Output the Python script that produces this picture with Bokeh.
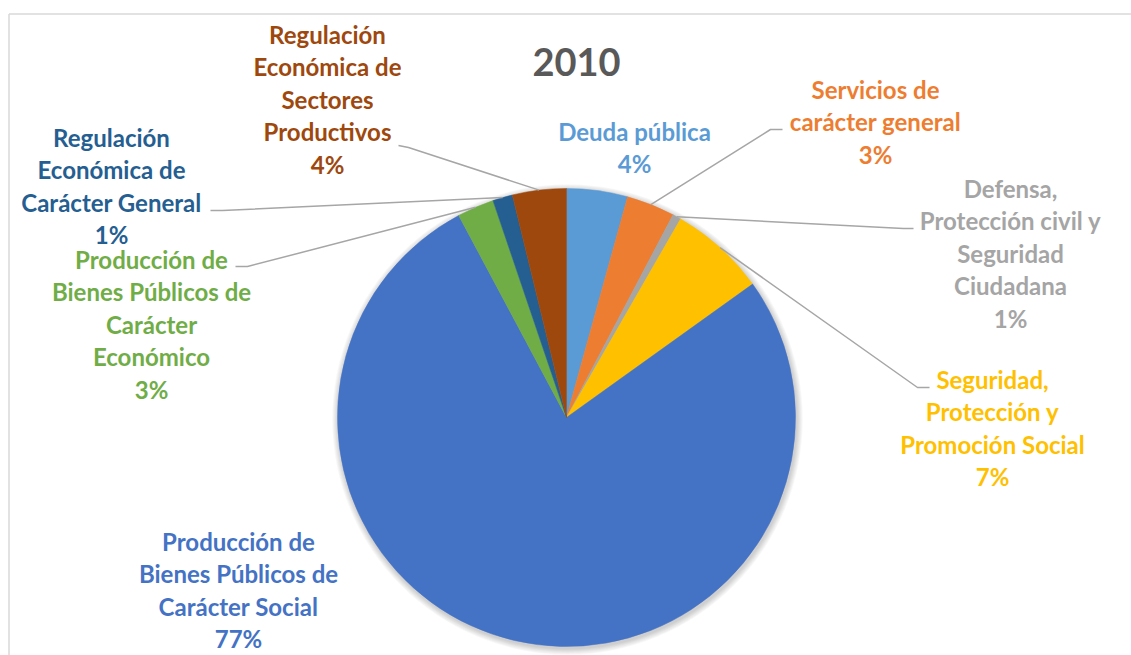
import math
from bokeh.plotting import figure
from bokeh.models import Range1d
from bokeh.core.properties import value
from bokeh.embed import file_html
from bokeh.resources import INLINE

# ---------------- data ----------------
title_text = "2010"
categories = [
    "Deuda pública",
    "Servicios de carácter general",
    "Defensa, Protección civil y Seguridad Ciudadana",
    "Seguridad, Protección y Promoción Social",
    "Producción de Bienes Públicos de Carácter Social",
    "Producción de Bienes Públicos de Carácter Económico",
    "Regulación Económica de Carácter General",
    "Regulación Económica de Sectores Productivos",
]
label_lines = [
    ["Deuda pública"],
    ["Servicios de", "carácter general"],
    ["Defensa,", "Protección civil y", "Seguridad", "Ciudadana"],
    ["Seguridad,", "Protección y", "Promoción Social"],
    ["Producción de", "Bienes Públicos de", "Carácter Social"],
    ["Producción de", "Bienes Públicos de", "Carácter", "Económico"],
    ["Regulación", "Económica de", "Carácter General"],
    ["Regulación", "Económica de", "Sectores", "Productivos"],
]
shares = [4.3, 3.4, 0.6, 6.8, 77.1, 2.6, 1.4, 3.8]
colors = ["#5B9BD5", "#ED7D31", "#A5A5A5", "#FFC000",
          "#4472C4", "#70AD47", "#255E91", "#9E480E"]

# ---------------- layout (screen-like coordinates) ----------------
W, H = 1131, 655
CX, CY, R = 566, 417, 229
label_pos = [(634, 131), (875, 89), (1010, 188), (992, 379),
             (238, 541), (151, 259), (111, 137), (327, 34)]
LINE_STEP = 32.4
# leader line label-side points (None = no leader)
leaders = [None,
           [(782, 129), (770, 129)],
           [(913, 228), (903, 228)],
           [(929, 387), (917, 387)],
           None,
           [(235, 266), (247, 266)],
           [(210, 210), (222, 210)],
           [(398, 145), (408, 147)]]

p = figure(width=W, height=H, output_backend="svg", toolbar_location=None,
           x_range=Range1d(0, W), y_range=Range1d(H, 0),
           min_border=0)
p.axis.visible = False
p.grid.visible = False
p.outline_line_color = None
p.background_fill_color = "white"
p.border_fill_color = "white"

# chart-area border (top & left visible)
p.line(x=[8.5, W], y=[13.5, 13.5], line_color="#D9D9D9", line_width=1.5)
p.line(x=[8.5, 8.5], y=[13.5, H], line_color="#D9D9D9", line_width=1.5)

# soft shadow
for i in range(1, 8):
    p.wedge(x=CX + 1, y=CY + 2, radius=R + i * 0.9, start_angle=0, end_angle=2 * math.pi,
            fill_color="black", fill_alpha=0.028, line_color=None)

total = sum(shares)
cum = 0.0
starts, ends, mids = [], [], []
for v in shares:
    a0 = math.pi / 2 - 2 * math.pi * cum / total
    cum += v
    a1 = math.pi / 2 - 2 * math.pi * cum / total
    starts.append(a0)
    ends.append(a1)
    mids.append((a0 + a1) / 2)

p.wedge(x=CX, y=CY, radius=R, start_angle=starts, end_angle=ends, direction="clock",
        fill_color=colors, line_color=colors, line_width=0.5)

# leader lines
for i, pts in enumerate(leaders):
    if pts is None:
        continue
    ex = CX + R * math.cos(mids[i])
    ey = CY - R * math.sin(mids[i])
    xs = [pt[0] for pt in pts] + [ex]
    ys = [pt[1] for pt in pts] + [ey]
    p.line(x=xs, y=ys, line_color="#A6A6A6", line_width=1.5)

# labels
for i, lines in enumerate(label_lines):
    pct = f"{round(shares[i] / total * 100)}%"
    all_lines = lines + [pct]
    lx, ly = label_pos[i]
    p.text(x=[lx] * len(all_lines), y=[ly + k * LINE_STEP for k in range(len(all_lines))],
           text=all_lines, text_color=colors[i], text_font=value("Lato"),
           text_font_style="bold", text_font_size="24px",
           text_align="center", text_baseline="middle")

# title
p.text(x=[576], y=[61], text=[title_text], text_color="#595959", text_font=value("Lato"),
       text_font_style="bold", text_font_size="38px", text_align="center",
       text_baseline="middle")

open("out.html", "w").write(file_html(p, INLINE))
